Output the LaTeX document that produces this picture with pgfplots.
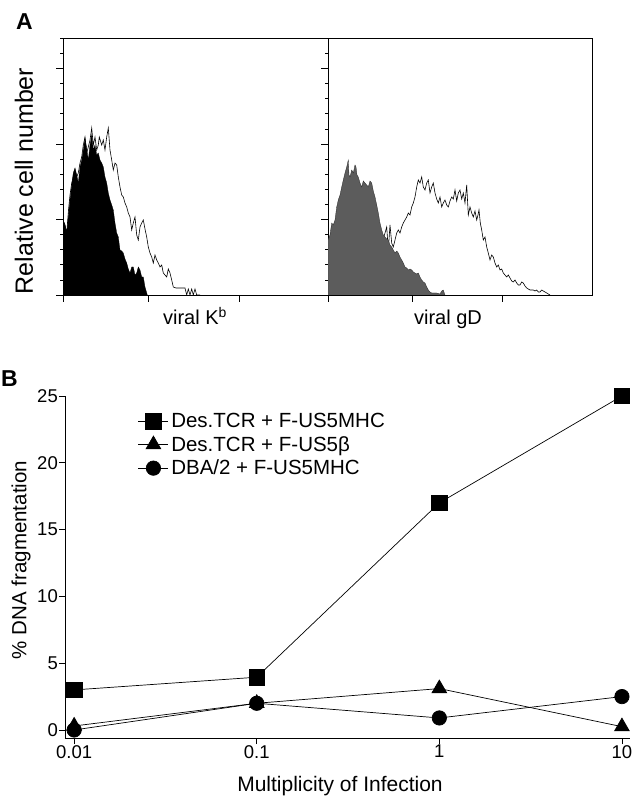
\documentclass[border=0pt]{standalone}
\usepackage{pgfplots}
\pgfplotsset{compat=1.18}
\usepackage{fontspec}
\setmainfont{Liberation Sans}

\pgfplotsset{
  histo/.style={
    scale only axis, anchor=south west,
    height=257pt, ymin=0, ymax=257,
    axis line style={line width=0.8pt},
    tick align=outside, xtick pos=bottom, ytick pos=left,
    ytick={0,75.5,151,226.5},
    minor ytick={15.1,30.2,...,257},
    major tick length=7pt, minor tick length=3pt,
    every tick/.style={black, line width=0.7pt},
    xticklabels={,,,,}, yticklabels={,,,,},
  },
}

\begin{document}
\begin{tikzpicture}[x=1pt,y=1pt]
\useasboundingbox (0,0) rectangle (641,798);

% ---- panel A, left: viral K^b
\begin{axis}[histo, at={(63pt,503pt)}, width=265pt, xmin=0, xmax=265,
  xtick={0,85,176,265}]
\addplot[fill=black, draw=black, line width=0.3pt] coordinates {
 (0,0) (0,75) (2,70) (3.7,62) (5.5,80) (7,95) (8.7,110) (10.3,122) (12,127)
 (13.7,120) (15.3,112) (17,128) (18.7,135) (20.3,145) (22,157) (23.7,146)
 (25.3,135) (27,150) (28.7,160) (30.3,145) (32,150) (33.7,140) (35.3,142)
 (37,135) (38.7,132) (40.3,128) (42,118) (43.7,112) (45.3,102) (47,95)
 (48.7,90) (50.3,85) (52,72) (53.7,62) (55.3,58) (57,45) (58.7,44) (60.3,42)
 (62,36) (63.7,32) (65.3,26) (67,22) (68.7,28) (70.3,28) (72,20) (73.7,22)
 (75.3,28) (77,25) (78.7,18) (80.3,18) (82,8) (84.3,0)};
\addplot[black, line width=0.6pt] coordinates {
 (0,75) (2,70) (3.7,62) (5.5,85) (7,100) (8.7,112) (10.3,118) (12,125)
 (13.7,118) (15.3,122) (17,132) (18.7,138) (20.3,150) (22,158) (23.7,142)
 (25.3,148) (27,155) (28.7,167) (30.3,150) (32,158) (33.7,145) (35.3,150)
 (36.3,158) (38.7,150) (40.3,155) (42,145) (43.7,158) (45.3,167) (47,145)
 (48.7,135) (50.3,125) (52,132) (53.7,130) (55.3,118) (57,108) (58.7,100)
 (60.3,98) (62,92) (63.7,88) (65.3,82) (67,78) (68.7,65) (70.3,72) (72,78)
 (73.7,60) (75.3,55) (77,68) (78.7,72) (80.3,75) (82,66) (83.7,58) (85.3,48)
 (87,42) (88.7,38) (90.3,32) (92,40) (93.7,35) (95.3,32) (97,28) (98.7,30)
 (100.3,22) (102,20) (103.7,18) (105.3,26) (107,22) (108.7,15) (110.3,8)
 (113,7) (117,7) (122,7) (123.7,0) (125.3,6) (127,0) (128.7,6) (130.3,0)
 (132,6) (133.7,0) (137,0)};
\end{axis}

% ---- panel A, right: viral gD
\begin{axis}[histo, at={(328pt,503pt)}, width=264pt, xmin=0, xmax=264,
  xtick={0,84,174}]
\addplot[black, line width=0.6pt] coordinates {
 (0,0) (10,5) (20,12) (30,20) (40,30) (50,45) (55,55) (58.7,68) (60.3,45)
 (62,70) (63.7,52) (65.3,48) (67,55) (68.7,62) (70.3,65) (72,62) (73.7,68)
 (75.3,72) (77,75) (78.7,78) (80.3,82) (82,80) (83.7,88) (85.3,92) (87,98)
 (88.7,108) (90.3,115) (92,112) (93.7,118) (95.3,108) (97,105) (98.7,112)
 (100.3,115) (102,102) (103.7,108) (105.3,112) (107,102) (108.7,96)
 (110.3,92) (112,98) (113.7,88) (115.3,92) (117,95) (118.7,90) (120.3,88)
 (122,94) (123.7,98) (125.3,96) (127,105) (128.7,94) (130.3,102) (132,105)
 (133.7,96) (135.3,102) (137,92) (138.7,110) (140.3,80) (142,88) (143.7,82)
 (145.3,78) (147,84) (148.7,75) (150,80) (151,85) (152.3,72) (153.7,65)
 (155.3,55) (157,58) (158.7,48) (160.3,42) (162,35) (163.7,40) (165.3,38)
 (167,32) (168.7,28) (170.3,30) (172,25) (173.7,26) (175.3,22) (177,20)
 (178.7,18) (180.3,20) (182,17) (183.7,14) (185.3,13) (187,15) (188.7,12)
 (190.3,10) (192,10) (193.7,13) (195.3,12) (197,9) (198.7,7) (200.3,6)
 (202,5) (205.3,5) (207,4) (208.7,5) (210.3,3) (212,3) (213.7,5) (215.3,4)
 (217,3) (218.7,2) (220.3,1) (222,0)};
\addplot[fill=black!64, draw=black!85, line width=0.3pt] coordinates {
 (0,0) (0,55) (2,60) (3.7,72) (5.3,70) (7,75) (8.7,88) (10.3,95) (12,100)
 (13.7,108) (15.3,115) (17,122) (18.7,128) (20.3,135) (21,120) (22,118)
 (23.7,125) (25.3,122) (27,130) (28,128) (29,120) (30.3,118) (32,112)
 (33.7,108) (35.3,114) (37,112) (38.7,110) (40.3,108) (42,114) (43.7,112)
 (45.3,104) (47,98) (48.7,90) (50.3,82) (52,72) (53.7,65) (55.3,60) (57,58)
 (58.7,56) (60.3,55) (62,50) (63.7,48) (65.3,45) (67,42) (68.7,44) (70.3,42)
 (72,38) (73.7,35) (75.3,32) (77,28) (78.7,27) (80.3,25) (82,26) (83.7,25)
 (85.3,23) (87,22) (88.7,21) (90.3,22) (92,18) (93.7,15) (95.3,13) (97,12)
 (98.7,8) (100.3,5) (102,3) (103.7,2) (108.7,2) (112,1) (113.7,4) (115.3,5)
 (117,0)};
\end{axis}

% ---- panel B
\begin{axis}[
  at={(65pt,60pt)}, anchor=south west,
  scale only axis, width=565pt, height=342pt,
  xmode=log, xmin=0.00891, xmax=11.07,
  ymin=-0.6, ymax=25,
  axis x line*=bottom, axis y line*=left,
  axis line style={-, line width=0.8pt},
  xtick={0.01,0.1,1,10}, xticklabels={0.01,0.1,1,10},
  xminorticks=false,
  ytick={0,5,10,15,20,25},
  tick align=outside, major tick length=6pt,
  every tick/.style={black, line width=0.8pt},
  ticklabel style={font=\fontsize{18.5}{22}\selectfont},
  yticklabel style={inner sep=1pt},
  xticklabel style={inner sep=1pt},
  /pgf/number format/assume math mode=true,
  clip=false,
  legend image code/.code={\draw[mark repeat=2,mark phase=2]
    plot coordinates {(0pt,0pt) (15pt,0pt) (30pt,0pt)};},
  legend style={draw=none, fill=none, at={(rel axis cs:0.129,0.957)},
    anchor=north west, font=\fontsize{20.5}{24}\selectfont,
    inner sep=0pt, row sep=2.2pt, nodes={inner sep=2.5pt}},
  legend cell align=left,
]
\addplot[black, line width=0.7pt, mark=square*, mark size=7.75pt,
  mark options={solid}] coordinates {(0.01,3.0) (0.1,3.95) (1,17.0) (10,25.0)};
\addlegendentry{Des.TCR + F-US5MHC}
\addplot[black, line width=0.7pt, mark=triangle*, mark size=8.5pt,
  mark options={solid}] coordinates {(0.01,0.3) (0.1,2.0) (1,3.1) (10,0.25)};
\addlegendentry{Des.TCR + F-US5β}
\addplot[black, line width=0.7pt, mark=*, mark size=7.2pt,
  mark options={solid}] coordinates {(0.01,0) (0.1,2.0) (1,0.9) (10,2.5)};
\addlegendentry{DBA/2 + F-US5MHC}
\end{axis}

% ---- labels
\node[anchor=base west, inner sep=0pt, font=\fontsize{23}{26}\selectfont\bfseries] at (16,768) {A};
\node[anchor=base west, inner sep=0pt, font=\fontsize{23}{26}\selectfont\bfseries] at (1,411) {B};
\node[rotate=90, inner sep=0pt, font=\fontsize{25}{30}\selectfont] at (24,617) {Relative cell number};
\node[anchor=base, inner sep=0pt, font=\fontsize{20}{24}\selectfont] at (195,473) {viral K\textsuperscript{b}};
\node[anchor=base, inner sep=0pt, font=\fontsize{20}{24}\selectfont] at (448,473) {viral gD};
\node[rotate=90, inner sep=0pt, font=\fontsize{20.5}{24}\selectfont] at (21,238) {\% DNA fragmentation};
\node[anchor=base, inner sep=0pt, font=\fontsize{21}{25}\selectfont] at (340,6) {Multiplicity of Infection};
\end{tikzpicture}
\end{document}
